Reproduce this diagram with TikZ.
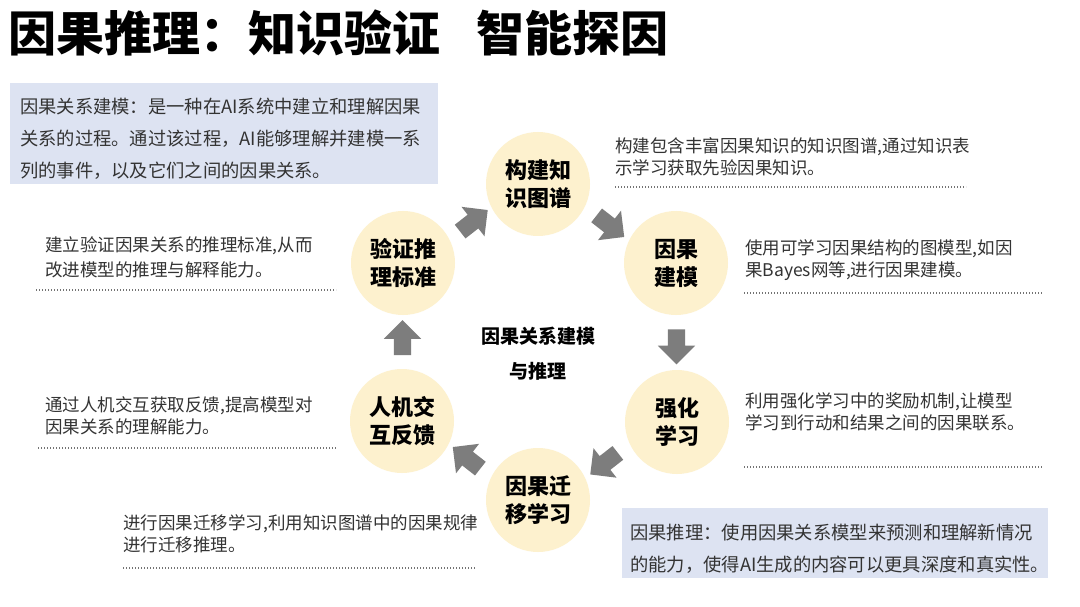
\documentclass[tikz,border=0pt]{standalone}
\usepackage{fontspec}
\setmainfont{Noto Sans CJK SC}
\usetikzlibrary{shapes.arrows,calc}
\definecolor{circfill}{RGB}{253,241,206}
\definecolor{boxfill}{RGB}{221,227,242}
\definecolor{txt}{RGB}{51,51,51}
\definecolor{arr}{RGB}{125,125,125}
\definecolor{dots}{RGB}{115,115,115}
\tikzset{
  stage/.style={circle,fill=circfill,minimum size=104pt,inner sep=0pt,align=center,
    font=\fontsize{22}{28}\selectfont\bfseries,text=black},
  desc/.style={anchor=west,inner sep=0pt,align=left,text=txt,
    font=\fontsize{17.5}{21.5}\selectfont},
  descbox/.style={anchor=west,inner sep=0pt,align=left,text=txt,
    font=\fontsize{18.3}{32}\selectfont},
  blockarrow/.style={single arrow,fill=arr,draw=none,inner sep=8.5pt,minimum height=35pt,
    minimum width=37pt,single arrow head extend=10pt,single arrow head indent=0pt},
  dotline/.style={draw=dots,line width=1.2pt,dash pattern=on 1.1pt off 1.9pt},
  infobox/.style={fill=boxfill,draw=none}
}
\begin{document}
\begin{tikzpicture}[x=1pt,y=-1pt]
\useasboundingbox (0,0) rectangle (1080,607);
\fill[white] (0,0) rectangle (1080,607);

% title
\node[anchor=west,inner sep=0pt,font=\fontsize{48}{52}\selectfont\bfseries,text=black]
  (title) at (8,33) {因果推理：知识验证\hspace{0.75em}智能探因};

% info boxes
\fill[infobox] (10,83) rectangle (438,184);
\node[descbox] (boxA) at (20,139) {因果关系建模：是一种在AI系统中建立和理解因果\\关系的过程。通过该过程，AI能够理解并建模一系\\列的事件，以及它们之间的因果关系。};

\fill[infobox] (622,508) rectangle (1048,578);
\node[descbox] (boxB) at (630,549) {因果推理：使用因果关系模型来预测和理解新情况\\的能力，使得AI生成的内容可以更具深度和真实性。};

% stages
\node[stage] (kg) at (538,184) {构建知\\识图谱};
\node[stage] (cm) at (676,263) {因果\\建模};
\node[stage] (rl) at (677,422) {强化\\学习};
\node[stage] (tl) at (538,500) {因果迁\\移学习};
\node[stage] (hf) at (402,421) {人机交\\互反馈};
\node[stage] (vs) at (403,263) {验证推\\理标准};

% center
\node[align=center,inner sep=0pt,font=\fontsize{19}{35}\selectfont\bfseries,text=black]
  (center) at (538,354) {因果关系建模\\与推理};

% block arrows
\node[blockarrow,rotate=38] (a1) at ($(vs)!0.5!(kg)$) {};
\node[blockarrow,rotate=-38] (a2) at ($(kg)!0.5!(cm)$) {};
\node[blockarrow,rotate=-90] (a3) at ($(cm)!0.5!(rl)$) {};
\node[blockarrow,rotate=218] (a4) at ($(rl)!0.5!(tl)$) {};
\node[blockarrow,rotate=142] (a5) at ($(tl)!0.5!(hf)$) {};
\node[blockarrow,rotate=90] (a6) at ($(hf)!0.5!(vs)$) {};

% descriptions
\node[desc] (dkg) at (615,157) {构建包含丰富因果知识的知识图谱,通过知识表\\示学习获取先验因果知识。};
\draw[dotline] (615,187) -- (966,187);

\node[desc] (dcm) at (745,260) {使用可学习因果结构的图模型,如因\\果Bayes网等,进行因果建模。};
\draw[dotline] (744,293) -- (1043,293);

\node[desc] (drl) at (745,412) {利用强化学习中的奖励机制,让模型\\学习到行动和结果之间的因果联系。};
\draw[dotline] (744,467) -- (1043,467);

\node[desc] (dtl) at (123,534) {进行因果迁移学习,利用知识图谱中的因果规律\\进行迁移推理。};
\draw[dotline] (123,568) -- (475,568);

\node[desc] (dhf) at (45,416) {通过人机交互获取反馈,提高模型对\\因果关系的理解能力。};
\draw[dotline] (38,448) -- (337,448);

\node[desc,font=\fontsize{17.5}{25}\selectfont] (dvs) at (45,257) {建立验证因果关系的推理标准,从而\\改进模型的推理与解释能力。};
\draw[dotline] (36,290) -- (336,290);
\end{tikzpicture}
\end{document}
